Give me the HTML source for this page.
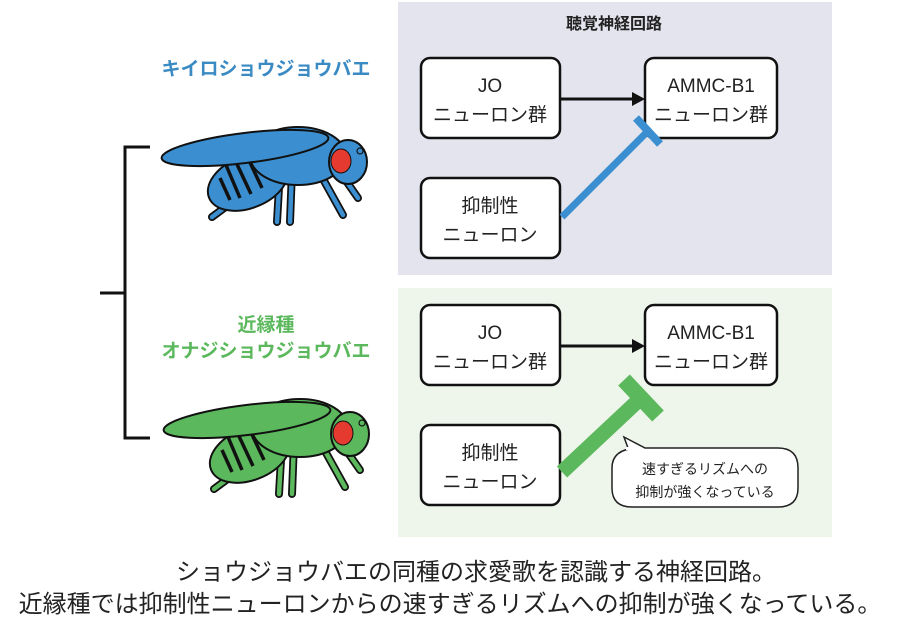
<!DOCTYPE html>
<html><head><meta charset="utf-8"><style>
body{margin:0;width:900px;height:626px;background:#fff;overflow:hidden;font-family:"Liberation Sans","Noto Sans CJK JP",sans-serif;}
</style></head><body>
<svg width="900" height="626" xmlns="http://www.w3.org/2000/svg" font-family="Liberation Sans, Noto Sans CJK JP, sans-serif">
<defs>
<g id="legs">
  <path d="M262 180 L212 217"/>
  <path d="M280 170 L277 222"/>
  <path d="M292 170 L290 222"/>
  <path d="M318 170 L343 215"/>
  <path d="M335 165 L358 198"/>
  <path d="M262 182 L282 150 L290 182"/>
</g>
<g id="flybody">
  <ellipse cx="248" cy="182" rx="42" ry="26" transform="rotate(-22 248 182)" stroke="#111" stroke-width="2"/>
  <path d="M226 165 L240 198 M235 160 L251 194 M246 154 L262 188 M220 178 L230 200" stroke="#111" stroke-width="3.5"/>
  <ellipse cx="298" cy="156" rx="48" ry="29" stroke="#111" stroke-width="2"/>
  <ellipse cx="245" cy="148" rx="84" ry="15" transform="rotate(-7 245 148)" stroke="#111" stroke-width="2"/>
  <ellipse cx="348" cy="162" rx="19" ry="22" stroke="#111" stroke-width="2"/>
  <ellipse cx="341" cy="161" rx="10" ry="12" fill="#e53a2f" stroke="#111" stroke-width="1"/>
  <circle cx="360" cy="151" r="3" fill="none" stroke="#111" stroke-width="1.2"/>
</g>
</defs>

<rect x="398" y="2" width="434" height="273" fill="#e4e4ee"/>
<rect x="398" y="288" width="434" height="249" fill="#eef5ea"/>
<text x="614" y="29" text-anchor="middle" font-size="16" font-weight="bold" fill="#222">聴覚神経回路</text>

<g fill="#fff" stroke="#111" stroke-width="2.5">
<rect x="421" y="58" width="139" height="80" rx="9"/>
<rect x="645" y="58" width="132" height="80" rx="9"/>
<rect x="421" y="178" width="139" height="80" rx="9"/>
<rect x="421" y="305" width="139" height="80" rx="9"/>
<rect x="645" y="305" width="132" height="80" rx="9"/>
<rect x="421" y="425" width="139" height="80" rx="9"/>
</g>
<g font-size="19" text-anchor="middle" fill="#222">
<text x="490" y="92">JO</text><text x="490" y="121">ニューロン群</text>
<text x="711" y="92">AMMC-B1</text><text x="711" y="121">ニューロン群</text>
<text x="490" y="212">抑制性</text><text x="490" y="241">ニューロン</text>
<text x="490" y="339">JO</text><text x="490" y="368">ニューロン群</text>
<text x="711" y="339">AMMC-B1</text><text x="711" y="368">ニューロン群</text>
<text x="490" y="459">抑制性</text><text x="490" y="488">ニューロン</text>
</g>

<line x1="560" y1="99" x2="635" y2="99" stroke="#111" stroke-width="3"/>
<polygon points="645,99 632,92 632,106" fill="#111"/>
<line x1="560" y1="346" x2="635" y2="346" stroke="#111" stroke-width="3"/>
<polygon points="645,346 632,339 632,353" fill="#111"/>

<line x1="562" y1="217" x2="647" y2="132" stroke="#3b8fd0" stroke-width="7"/>
<line x1="636" y1="118" x2="660" y2="144" stroke="#3b8fd0" stroke-width="8"/>

<line x1="562" y1="472" x2="641" y2="398" stroke="#5cb85c" stroke-width="15"/>
<line x1="624" y1="380" x2="658" y2="416" stroke="#5cb85c" stroke-width="16"/>

<path d="M628,448 L640,448 Q612,448 612,468 L612,488 Q612,507 632,507 L778,507 Q798,507 798,488 L798,468 Q798,448 778,448 L645,448 L624,437 Z" fill="#fff" stroke="#222" stroke-width="1.5"/>
<rect x="626" y="447" width="16" height="3" fill="#fff"/>
<g font-size="14" text-anchor="middle" fill="#222">
<text x="705" y="474">速すぎるリズムへの</text>
<text x="705" y="497">抑制が強くなっている</text>
</g>

<text x="266" y="75" text-anchor="middle" font-size="19" font-weight="bold" fill="#3a8ac4">キイロショウジョウバエ</text>
<text x="266" y="331" text-anchor="middle" font-size="19" font-weight="bold" fill="#5cb85c">近縁種</text>
<text x="266" y="357" text-anchor="middle" font-size="19" font-weight="bold" fill="#5cb85c">オナジショウジョウバエ</text>

<path d="M150 147 L125 147 L125 438 L150 438 M100 293 L125 293" fill="none" stroke="#111" stroke-width="3"/>

<g fill="none" stroke-linecap="round" stroke-linejoin="round">
  <use href="#legs" stroke="#111" stroke-width="8"/>
  <use href="#legs" stroke="#3b8fd0" stroke-width="4.5"/>
</g>
<use href="#flybody" fill="#3b8fd0"/>

<g transform="translate(2,272)">
<g fill="none" stroke-linecap="round" stroke-linejoin="round">
  <use href="#legs" stroke="#111" stroke-width="8"/>
  <use href="#legs" stroke="#5cb85c" stroke-width="4.5"/>
</g>
<use href="#flybody" fill="#5cb85c"/>
</g>

<g font-size="24" text-anchor="middle" fill="#222">
<text x="476" y="580">ショウジョウバエの同種の求愛歌を認識する神経回路。</text>
<text x="450" y="612">近縁種では抑制性ニューロンからの速すぎるリズムへの抑制が強くなっている。</text>
</g>
</svg>
</body></html>
